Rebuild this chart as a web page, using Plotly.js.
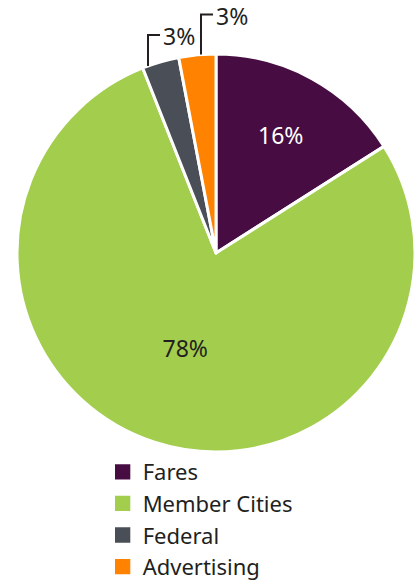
<!DOCTYPE html>
<html>
<head>
<meta charset="utf-8">
<script src="https://cdn.plot.ly/plotly-3.0.1.min.js"></script>
<style>
html,body{margin:0;padding:0;background:#fff;}
#chart{width:419px;height:581px;}
#chart path.legendpie{transform: translate(20px,0px) scale(1.7);}
</style>
</head>
<body>
<div id="chart"></div>
<script>
var categories = ["Fares", "Member Cities", "Federal", "Advertising"];
var shares = [16, 78, 3, 3];
var colors = ["#470d42", "#a3cd4d", "#4a4e56", "#ff8200"];
var textPositions = ["inside", "inside", "none", "none"];
var textColors = ["#ffffff", "#231f20", "#231f20", "#231f20"];
// callout labels for small slices: which slices, where on the arc the leader starts (fraction of slice), leader rise in px
var calloutSlices = [2, 3];
var calloutArcFraction = [0.15, 0.6];
var calloutRise = [31, 40];

var FONT = "Noto Sans, sans-serif";
var W = 419, H = 581;

var trace = {
  type: "pie",
  labels: categories,
  values: shares,
  sort: false,
  direction: "clockwise",
  rotation: 0,
  marker: {colors: colors, line: {color: "#ffffff", width: 3}},
  texttemplate: "%{value}%",
  textposition: textPositions,
  insidetextorientation: "horizontal",
  textfont: {family: FONT, size: 23, color: textColors},
  hoverinfo: "label+percent",
  domain: {x: [17/W, 415/W], y: [(H-452)/H, (H-54)/H]}
};

var layout = {
  width: W,
  height: H,
  margin: {l: 0, r: 0, t: 0, b: 0, autoexpand: false},
  paper_bgcolor: "#ffffff",
  showlegend: true,
  legend: {
    x: 0.245, y: 1 - 451/H, xanchor: "left", yanchor: "top",
    orientation: "v",
    font: {family: FONT, size: 22, color: "#231f20"},
    bgcolor: "rgba(0,0,0,0)"
  }
};

var gd = document.getElementById("chart");
Plotly.newPlot(gd, [trace], layout, {displayModeBar: false, staticPlot: true}).then(function () {
  var cd0 = gd.calcdata[0][0];
  var cx = cd0.cx, cy = cd0.cy, r = cd0.r;
  var total = shares.reduce(function (a, b) { return a + b; }, 0);
  var shapes = [], annotations = [];
  var toX = function (p) { return p / W; };
  var toY = function (p) { return 1 - p / H; };
  calloutSlices.forEach(function (idx, k) {
    var start = 0;
    for (var i = 0; i < idx; i++) start += shares[i];
    var frac = (start + shares[idx] * calloutArcFraction[k]) / total;
    var ang = frac * 2 * Math.PI;
    var px = cx + r * Math.sin(ang);
    var py = cy - r * Math.cos(ang);
    var ty = py - calloutRise[k];
    var hx = px + 12;
    shapes.push({
      type: "path", xref: "paper", yref: "paper",
      path: "M" + toX(px) + "," + toY(py) + " L" + toX(px) + "," + toY(ty) + " L" + toX(hx) + "," + toY(ty),
      line: {color: "#231f20", width: 2}
    });
    annotations.push({
      xref: "paper", yref: "paper", x: toX(hx + 2), y: toY(ty + 1),
      xanchor: "left", yanchor: "middle", showarrow: false, borderpad: 0,
      text: shares[idx] + "%",
      font: {family: FONT, size: 23, color: "#231f20"}
    });
  });
  return Plotly.relayout(gd, {shapes: shapes, annotations: annotations});
});
</script>
</body>
</html>
